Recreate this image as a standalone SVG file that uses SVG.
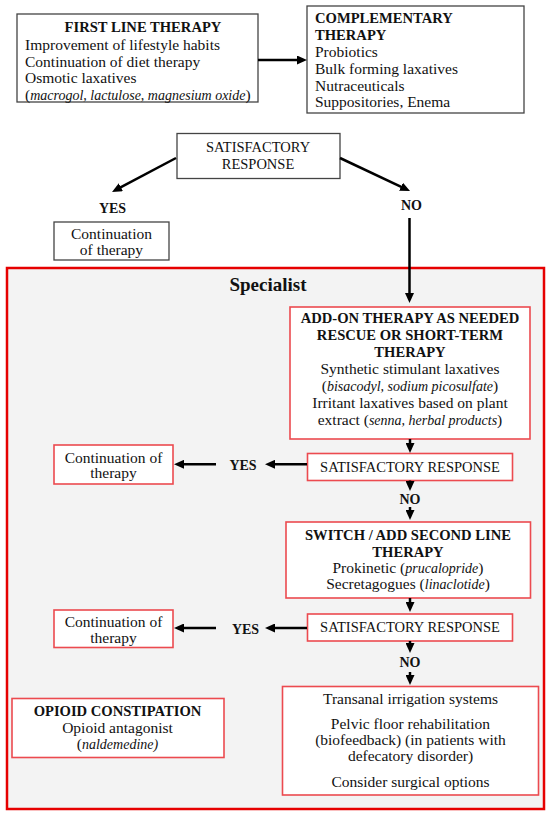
<svg xmlns="http://www.w3.org/2000/svg" width="550" height="817" viewBox="0 0 550 817">
<style>
text{fill:#111;}
.r{font-size:15.5px;}
.b{font-size:14.6px;font-weight:bold;}
.c{font-size:14.5px;}
.yn{font-size:14px;font-weight:bold;}
.sp{font-size:19px;font-weight:bold;}
.m{text-anchor:middle;}
.i{font-style:italic;font-size:14px;}
.gbox{fill:#fff;stroke:#444;stroke-width:1.3;}
.rbox{fill:#fff;stroke:#ec4a4f;stroke-width:1.6;}
.conn line{stroke:#000;stroke-width:2.5;marker-end:url(#ah);}
</style>
<defs>
<marker id="ah" markerUnits="userSpaceOnUse" markerWidth="10" markerHeight="9" refX="2" refY="4.5" orient="auto">
<path d="M0,0 L10,4.5 L0,9 z" fill="#000"/>
</marker>
</defs>
<rect width="550" height="817" fill="#fff"/>
<g font-family="'Liberation Serif', Tinos, 'Times New Roman', serif">

<g id="specialist">
<rect x="7" y="268" width="537" height="541" fill="#f3f3f3" stroke="#e60000" stroke-width="2.5"/>
<text class="sp m" x="268" y="291">Specialist</text>
</g>

<g id="first-line">
<rect class="gbox" x="17" y="14" width="241" height="88"/>
<text class="b m" x="143" y="32">FIRST LINE THERAPY</text>
<text class="r" x="25" y="49.5">Improvement of lifestyle habits</text>
<text class="r" x="25" y="66.5">Continuation of diet therapy</text>
<text class="r" x="25" y="83">Osmotic laxatives</text>
<text class="r" x="25" y="99.5">(<tspan class="i">macrogol, lactulose, magnesium oxide</tspan>)</text>
</g>

<g id="complementary">
<rect class="gbox" x="307" y="6" width="217" height="107"/>
<text class="b" x="315" y="23">COMPLEMENTARY</text>
<text class="b" x="315" y="40">THERAPY</text>
<text class="r" x="315" y="56.5">Probiotics</text>
<text class="r" x="315" y="73.5">Bulk forming laxatives</text>
<text class="r" x="315" y="90.5">Nutraceuticals</text>
<text class="r" x="315" y="107">Suppositories, Enema</text>
</g>

<g id="sat0">
<rect class="gbox" x="177" y="133.5" width="163" height="45"/>
<text class="c m" x="258" y="152">SATISFACTORY</text>
<text class="c m" x="258" y="168.5">RESPONSE</text>
</g>

<g id="yes0"><text class="yn m" x="112.5" y="213">YES</text></g>
<g id="no0"><text class="yn m" x="411.5" y="210">NO</text></g>

<g id="cont0">
<rect class="gbox" x="54" y="222" width="115" height="38"/>
<text class="r m" x="111.5" y="239">Continuation</text>
<text class="r m" x="111.5" y="255">of therapy</text>
</g>

<g id="addon">
<rect class="rbox" x="290" y="307" width="240" height="132"/>
<text class="b m" x="410" y="323">ADD-ON THERAPY AS NEEDED</text>
<text class="b m" x="410" y="340">RESCUE OR SHORT-TERM</text>
<text class="b m" x="410" y="357">THERAPY</text>
<text class="r m" x="410" y="374">Synthetic stimulant laxatives</text>
<text class="r m" x="410" y="391">(<tspan class="i">bisacodyl, sodium picosulfate</tspan>)</text>
<text class="r m" x="410" y="408">Irritant laxatives based on plant</text>
<text class="r m" x="410" y="425">extract (<tspan class="i">senna, herbal products</tspan>)</text>
</g>

<g id="sat1">
<rect class="rbox" x="307.5" y="453.5" width="205" height="27"/>
<text class="c m" x="410" y="471.5">SATISFACTORY RESPONSE</text>
</g>
<g id="yes1"><text class="yn m" x="243" y="469.5">YES</text></g>
<g id="cont1">
<rect class="rbox" x="54" y="445" width="119" height="39"/>
<text class="r m" x="113.5" y="462.5">Continuation of</text>
<text class="r m" x="113.5" y="478">therapy</text>
</g>
<g id="no1"><text class="yn m" x="410" y="503.5">NO</text></g>

<g id="switch">
<rect class="rbox" x="286" y="522" width="244.5" height="76"/>
<text class="b m" x="408" y="540">SWITCH / ADD SECOND LINE</text>
<text class="b m" x="408" y="556.5">THERAPY</text>
<text class="r m" x="408" y="572.5">Prokinetic (<tspan class="i">prucalopride</tspan>)</text>
<text class="r m" x="408" y="589">Secretagogues (<tspan class="i">linaclotide</tspan>)</text>
</g>

<g id="sat2">
<rect class="rbox" x="307.5" y="614" width="205" height="27"/>
<text class="c m" x="410" y="632">SATISFACTORY RESPONSE</text>
</g>
<g id="yes2"><text class="yn m" x="245.5" y="634">YES</text></g>
<g id="cont2">
<rect class="rbox" x="54" y="610" width="119" height="37.5"/>
<text class="r m" x="113.5" y="627">Continuation of</text>
<text class="r m" x="113.5" y="643">therapy</text>
</g>
<g id="no2"><text class="yn m" x="410" y="667">NO</text></g>

<g id="final">
<rect class="rbox" x="282.5" y="686.5" width="256" height="108.5"/>
<text class="r m" x="410.5" y="703.5">Transanal irrigation systems</text>
<text class="r m" x="410.5" y="728.5">Pelvic floor rehabilitation</text>
<text class="r m" x="410.5" y="744.5">(biofeedback) (in patients with</text>
<text class="r m" x="410.5" y="761">defecatory disorder)</text>
<text class="r m" x="410.5" y="787">Consider surgical options</text>
</g>

<g id="opioid">
<rect class="rbox" x="12" y="698.5" width="212" height="59"/>
<text class="b m" x="117.5" y="716">OPIOID CONSTIPATION</text>
<text class="r m" x="117.5" y="732.5">Opioid antagonist</text>
<text class="r m" x="117.5" y="748.5">(<tspan class="i">naldemedine)</tspan></text>
</g>
</g>

<g id="connectors" class="conn">
<line x1="258" y1="60" x2="299" y2="60"/>
<line x1="176" y1="158" x2="119.1" y2="188.2"/>
<line x1="340" y1="158" x2="402.8" y2="187.6"/>
<line x1="409.5" y1="218" x2="409.5" y2="295"/>
<line x1="410" y1="439" x2="410" y2="445"/>
<line x1="410" y1="480.5" x2="410" y2="483"/>
<line x1="410" y1="507" x2="410" y2="512"/>
<line x1="410" y1="598" x2="410" y2="604"/>
<line x1="410" y1="641" x2="410" y2="645"/>
<line x1="410" y1="672" x2="410" y2="677"/>
<line x1="307" y1="464.3" x2="273" y2="464.3"/>
<line x1="216" y1="464.3" x2="182" y2="464.3"/>
<line x1="307" y1="628" x2="273" y2="628"/>
<line x1="216" y1="628" x2="182" y2="628"/>
</g>
</svg>
